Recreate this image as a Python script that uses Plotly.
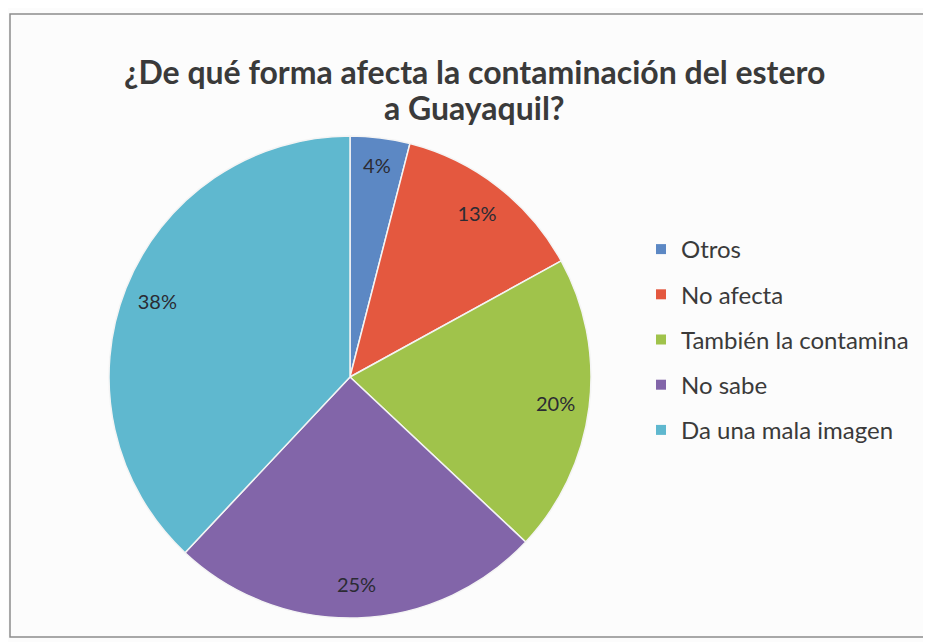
import plotly.graph_objects as go

# datos
categorias = ['Otros', 'No afecta', 'También la contamina', 'No sabe', 'Da una mala imagen']
porcentajes = [4, 13, 20, 25, 38]
colores = ['#5C88C4', '#E4583F', '#A0C34B', '#8265A9', '#5FB8CF']

titulo_1 = '¿De qué forma afecta la contaminación del estero'
titulo_2 = 'a Guayaquil?'

# la pagina tiene 8px de margen en body, la figura ocupa el resto de la ventana
W, H = 923, 634
OFF = 8
def px_x(x):
    return (x - OFF) / W
def px_y(y):
    return 1 - (y - OFF) / H

cx, cy, r = 350, 377, 241   # centro y radio del pastel (px en la imagen)
dominio = dict(x=[px_x(cx - r), px_x(cx + r)], y=[px_y(cy + r), px_y(cy - r)])

fig = go.Figure()
# pastel con los colores
fig.add_trace(go.Pie(labels=categorias,
                     values=porcentajes,
                     sort=False,
                     direction='clockwise',
                     rotation=0,
                     marker=dict(colors=colores, line=dict(color='#f4f4f4', width=1.5)),
                     textinfo='none',
                     showlegend=False,
                     hoverinfo='label+percent',
                     domain=dominio))
# mismo pastel transparente con hueco, solo para poner los % cerca del borde
fig.add_trace(go.Pie(labels=categorias,
                     values=porcentajes,
                     sort=False,
                     direction='clockwise',
                     rotation=0,
                     hole=0.72,
                     marker=dict(colors=['rgba(0,0,0,0)'] * len(categorias),
                                 line=dict(width=0)),
                     texttemplate='%{percent:.0%}',
                     textposition='inside',
                     insidetextorientation='horizontal',
                     textfont=dict(family='Lato', size=20, color='#2b2b33'),
                     showlegend=False,
                     hoverinfo='label+percent',
                     domain=dominio))

# leyenda con cuadros (una entrada por categoria)
for lab, col in zip(categorias, colores):
    fig.add_trace(go.Scatter(x=[None], y=[None],
                             mode='markers',
                             name=lab,
                             legendgroup=lab,
                             marker=dict(symbol='square', size=10, color=col)))

fig.update_layout(width=W, height=H,
                  margin=dict(l=0, r=0, t=0, b=0),
                  paper_bgcolor='#fcfcfc',
                  plot_bgcolor='rgba(0,0,0,0)',
                  xaxis=dict(visible=False),
                  yaxis=dict(visible=False),
                  font=dict(family='Lato', color='#333333'),
                  legend=dict(x=px_x(641), xanchor='left',
                              y=px_y(227), yanchor='top',
                              font=dict(family='Lato', size=24, color='#3a3a3a'),
                              tracegroupgap=11,
                              bgcolor='rgba(0,0,0,0)',
                              itemclick=False),
                  shapes=[dict(type='rect', xref='paper', yref='paper',
                               x0=px_x(10), x1=px_x(926), y0=px_y(637), y1=px_y(14),
                               line=dict(color='#8c8c8c', width=1.5),
                               fillcolor='rgba(0,0,0,0)')])

# titulo en dos lineas
for txt, yy in [(titulo_1, 71), (titulo_2, 107)]:
    fig.add_annotation(text='<b>' + txt + '</b>',
                       xref='paper', yref='paper',
                       x=px_x(474), y=px_y(yy),
                       xanchor='center', yanchor='middle',
                       showarrow=False,
                       font=dict(family='Lato', size=32, color='#3a3a3a'))

fig.write_html('out.html')
